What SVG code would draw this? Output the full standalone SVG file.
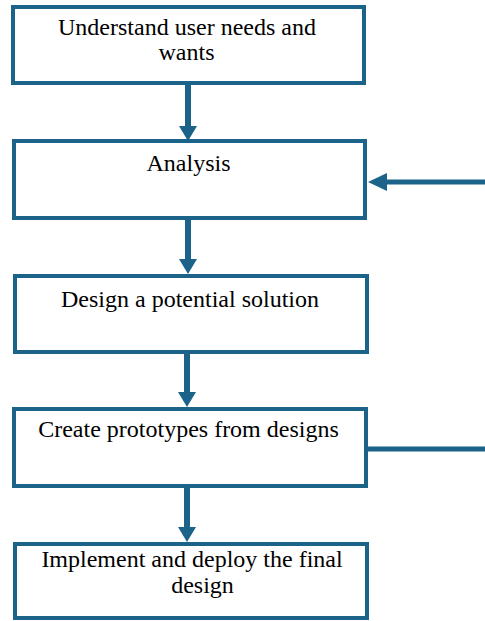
<svg xmlns="http://www.w3.org/2000/svg" width="485" height="621" viewBox="0 0 485 621">
<defs>
<style>
.box{fill:#fff;stroke:#1b6388;stroke-width:4}
.con{stroke:#1b6388;stroke-width:6;fill:none}
.head{fill:#1b6388}
</style>
</defs>
<rect width="485" height="621" fill="#fff"/>
<g id="n1"><rect class="box" x="13" y="7" width="351" height="76"/>
<text x="187" y="35" font-family="Liberation Serif" font-size="24" text-anchor="middle">Understand user needs and</text>
<text x="186.5" y="60" font-family="Liberation Serif" font-size="24" text-anchor="middle">wants</text></g>
<g id="n2"><rect class="box" x="14" y="141" width="351" height="77"/>
<text x="188.5" y="171" font-family="Liberation Serif" font-size="24" text-anchor="middle">Analysis</text></g>
<g id="n3"><rect class="box" x="15" y="276" width="352" height="76"/>
<text x="190" y="307" font-family="Liberation Serif" font-size="24" text-anchor="middle">Design a potential solution</text></g>
<g id="n4"><rect class="box" x="14" y="409" width="352" height="77"/>
<text x="188.5" y="437" font-family="Liberation Serif" font-size="24" text-anchor="middle">Create prototypes from designs</text></g>
<g id="n5"><rect class="box" x="15" y="544" width="352" height="74"/>
<text x="192" y="567" font-family="Liberation Serif" font-size="24" text-anchor="middle">Implement and deploy the final</text>
<text x="202.5" y="593" font-family="Liberation Serif" font-size="24" text-anchor="middle">design</text></g>
<g id="connectors">
<line class="con" x1="188" y1="85" x2="188" y2="126"/><path class="head" d="M179,126 L197,126 L188,141 Z"/>
<line class="con" x1="188" y1="220" x2="188" y2="259"/><path class="head" d="M179,259 L197,259 L188,274 Z"/>
<line class="con" x1="187" y1="354" x2="187" y2="392"/><path class="head" d="M178,392 L196,392 L187,407 Z"/>
<line class="con" x1="187" y1="488" x2="187" y2="527"/><path class="head" d="M178,527 L196,527 L187,542 Z"/>
<line class="con" x1="485" y1="182" x2="385" y2="182" style="stroke-width:5"/><path class="head" d="M387,173 L387,191 L368,182 Z"/>
<line class="con" x1="366" y1="449" x2="485" y2="449" style="stroke-width:5"/>
</g>
</svg>
